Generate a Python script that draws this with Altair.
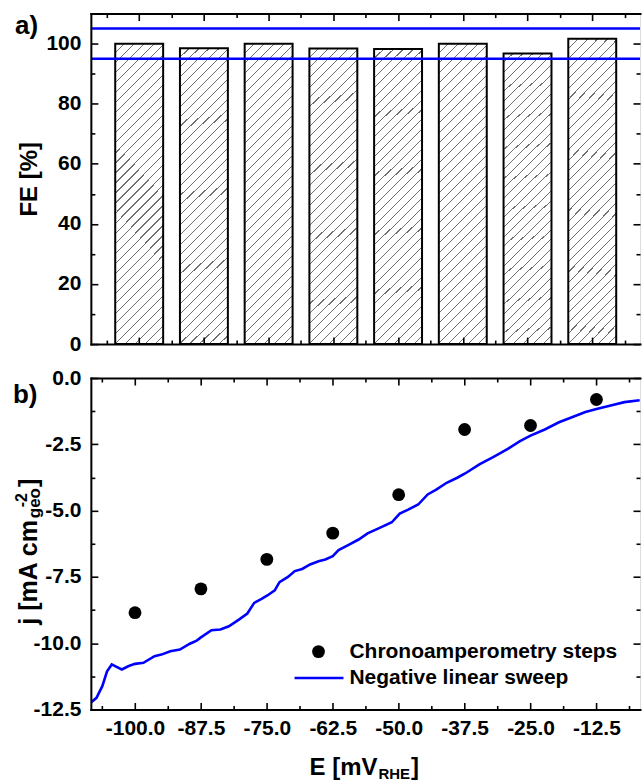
import altair as alt
import pandas as pd

# ---------------- data ----------------
E_steps = [-100.0, -87.5, -75.0, -62.5, -50.0, -37.5, -25.0, -12.5]
FE = [100.0, 98.5, 100.0, 98.4, 98.2, 100.0, 96.7, 101.6]
FE_limits = [95, 105]
j_steps = [-8.85, -7.95, -6.84, -5.85, -4.40, -1.94, -1.79, -0.81]

sweep_E = [-108.3, -107.3, -106.2, -105.3, -104.4, -103.5, -102.5, -101.3, -100.0,
           -98.4, -96.3, -95.0, -93.3, -91.5, -89.6, -88.3, -87.5, -85.5, -83.8,
           -82.2, -80.3, -78.7, -77.4, -76.0, -74.9, -73.5, -72.6, -71.0, -69.7,
           -68.3, -66.8, -65.2, -63.9, -62.5, -61.4, -59.4, -57.6, -55.9, -53.6,
           -51.3, -49.8, -48.2, -46.3, -44.5, -42.8, -40.9, -38.9, -37.4, -34.7,
           -32.0, -29.3, -27.0, -25.0, -22.3, -19.6, -16.9, -14.6, -12.3, -9.6,
           -7.2, -4.3]
sweep_j = [-12.23, -12.06, -11.62, -11.06, -10.80, -10.89, -10.99, -10.87, -10.78,
           -10.74, -10.49, -10.43, -10.30, -10.24, -10.02, -9.90, -9.78, -9.51, -9.48,
           -9.36, -9.11, -8.88, -8.48, -8.33, -8.20, -8.01, -7.70, -7.50, -7.28,
           -7.20, -7.03, -6.91, -6.84, -6.72, -6.49, -6.28, -6.09, -5.86, -5.65,
           -5.44, -5.11, -4.96, -4.77, -4.39, -4.20, -3.95, -3.76, -3.60, -3.26,
           -2.97, -2.67, -2.38, -2.17, -1.94, -1.67, -1.46, -1.28, -1.16, -1.03,
           -0.91, -0.84]

x_major = [-100.0, -87.5, -75.0, -62.5, -50.0, -37.5, -25.0, -12.5]
x_minor = [-106.25, -93.75, -81.25, -68.75, -56.25, -43.75, -31.25, -18.75, -6.25]
fe_major = [0, 20, 40, 60, 80, 100]
fe_minor = [10, 30, 50, 70, 90]
j_major = [0.0, -2.5, -5.0, -7.5, -10.0, -12.5]
j_minor = [-1.25, -3.75, -6.25, -8.75, -11.25]

legend_labels = ["Chronoamperometry steps", "Negative linear sweep"]
panel_labels = ["a)", "b)"]
fe_title = "FE [%]"
x_title_parts = ["E [mV", "RHE", "]"]
j_title_parts = ["j [mA cm", "-2", "geo", "]"]

# ---------------- style ----------------
FONT = "Liberation Sans"
BLUE = "#0000FF"
XDOM = [-108.37, -4.24]
W = 550
H_TOP = 331
H_BOT = 332
MAJ = 7
MIN = 4
LBL = 21
FMT1 = "(datum.value % 1 == 0 ? datum.value + '.0' : '' + datum.value)"


def make_axis(orient, values, size, labels=False, label_expr=None, label_padding=8,
              title=None):
    # inward ticks: shift the axis inside by its tick length
    kw = dict(orient=orient, values=values, tickSize=size, offset=-size, tickWidth=1.6,
              tickColor="black", domain=False, grid=False, labels=labels, zindex=1,
              title=title)
    if labels:
        kw.update(labelExpr=label_expr, labelFont=FONT, labelFontSize=LBL,
                  labelFontWeight="bold", labelColor="black", labelPadding=label_padding,
                  labelOverlap=False, labelFlush=False)
    if title:
        kw.update(titleFont=FONT, titleFontSize=24, titleFontWeight="bold",
                  titleColor="black", titlePadding=4)
    return alt.Axis(**kw)


def frame_axis(orient):
    # spine only (no ticks, no labels)
    return alt.Axis(orient=orient, domain=True, domainColor="black", domainWidth=2,
                    domainCap="square", ticks=False, labels=False, grid=False,
                    title=None, zindex=1)


def txt(s, x, y, size, angle=0, align="left", baseline="alphabetic"):
    return alt.Chart(alt.Data(values=[{"s": s}])).mark_text(
        font=FONT, fontSize=size, fontWeight="bold", align=align,
        baseline=baseline, angle=angle, color="black"
    ).encode(x=alt.value(x), y=alt.value(y), text="s:N")


# hatch fill as a striped linear gradient (in bar bounding-box units)
period = 0.0052
frac = 0.11
stops = []
t = 0.0
while t < 0.2:
    a = round(t, 5)
    b = round(t + period * (1 - frac), 5)
    c = round(t + period, 5)
    stops += [alt.GradientStop(offset=a, color="white"),
              alt.GradientStop(offset=b, color="white"),
              alt.GradientStop(offset=b, color="#707070"),
              alt.GradientStop(offset=c, color="#707070")]
    t += period
stops.append(alt.GradientStop(offset=round(t, 5), color="white"))
stops.append(alt.GradientStop(offset=1, color="white"))
hatch = alt.Gradient(gradient="linear", stops=stops, x1=0, y1=0, x2=1, y2=6.25)

xs = alt.Scale(domain=XDOM, nice=False, zero=False)
fes = alt.Scale(domain=[0, 110], nice=False)
js = alt.Scale(domain=[-12.5, 0], nice=False)

bars_df = pd.DataFrame({"E": E_steps, "FE": FE})
lim_df = pd.DataFrame({"FE": FE_limits})
steps_df = pd.DataFrame({"E": E_steps, "j": j_steps})
sweep_df = pd.DataFrame({"E": sweep_E, "j": sweep_j})


def ghost(df, ycol, yscale, xaxis, yaxis):
    return alt.Chart(df).mark_point(opacity=0).encode(
        x=alt.X("E:Q", scale=xs, axis=xaxis),
        y=alt.Y(f"{ycol}:Q", scale=yscale, axis=yaxis),
    )


# invisible anchor fixing the page's top-left corner relative to the plot
anchor = alt.Chart(alt.Data(values=[{"s": ""}])).mark_rule(
    strokeWidth=1, opacity=0
).encode(x=alt.value(-90.5), x2=alt.value(-85), y=alt.value(-12.5))

# ---------------- top panel ----------------
bars = alt.Chart(bars_df).mark_bar(size=48, fill=hatch, stroke="black", strokeWidth=2).encode(
    x=alt.X("E:Q", scale=xs, axis=make_axis("bottom", x_major, MAJ)),
    y=alt.Y("FE:Q", scale=fes,
            axis=make_axis("left", fe_major, MAJ, labels=True,
                           label_expr="'' + datum.value", label_padding=10,
                           title=fe_title)),
)
limits = alt.Chart(lim_df).mark_rule(color=BLUE, strokeWidth=2.5).encode(
    y=alt.Y("FE:Q", scale=fes, axis=make_axis("left", fe_minor, MIN))
)
top = alt.layer(
    bars, limits,
    ghost(bars_df, "FE", fes, make_axis("bottom", x_minor, MIN), make_axis("right", fe_major, MAJ)),
    ghost(bars_df, "FE", fes, make_axis("top", x_major, MAJ), make_axis("right", fe_minor, MIN)),
    ghost(bars_df, "FE", fes, make_axis("top", x_minor, MIN), frame_axis("left")),
    ghost(bars_df, "FE", fes, frame_axis("bottom"), None),
    ghost(bars_df, "FE", fes, frame_axis("top"), None),
    txt(panel_labels[0], -76, 20.5, 26),
    anchor,
).resolve_axis(x="independent", y="independent").properties(width=W, height=H_TOP)

# ---------------- bottom panel ----------------
line = alt.Chart(sweep_df).mark_line(color=BLUE, strokeWidth=2.6, clip=True).encode(
    x=alt.X("E:Q", scale=xs,
            axis=make_axis("bottom", x_major, MAJ, labels=True, label_expr=FMT1,
                           label_padding=8)),
    y=alt.Y("j:Q", scale=js,
            axis=make_axis("left", j_major, MAJ, labels=True, label_expr=FMT1,
                           label_padding=10)),
    order="E:Q",
)
points = alt.Chart(steps_df).mark_circle(size=165, color="black", opacity=1).encode(
    x=alt.X("E:Q", scale=xs, axis=make_axis("top", x_major, MAJ)),
    y=alt.Y("j:Q", scale=js, axis=make_axis("right", j_major, MAJ)),
)
leg_pt = alt.Chart(alt.Data(values=[{"s": legend_labels[0]}])).mark_circle(
    size=165, color="black", opacity=1
).encode(x=alt.value(228), y=alt.value(274))
leg_ln = alt.Chart(alt.Data(values=[{"s": legend_labels[1]}])).mark_rule(
    color=BLUE, strokeWidth=2.6
).encode(x=alt.value(204), x2=alt.value(253), y=alt.value(300.5))

# composed axis titles (with sub/superscripts)
JF = 25
jm = 247
jy1 = jm - 4.223 * JF - 1
xm = 219.0
bottom = alt.layer(
    line, points,
    ghost(steps_df, "j", js, make_axis("bottom", x_minor, MIN), make_axis("left", j_minor, MIN)),
    ghost(steps_df, "j", js, make_axis("top", x_minor, MIN), make_axis("right", j_minor, MIN)),
    ghost(steps_df, "j", js, frame_axis("bottom"), frame_axis("left")),
    ghost(steps_df, "j", js, frame_axis("top"), None),
    leg_pt, leg_ln,
    txt(legend_labels[0], 259, 274.5, 21, baseline="middle"),
    txt(legend_labels[1], 259, 300.5, 21, baseline="middle"),
    txt(panel_labels[1], -78, 25.5, 26),
    txt(x_title_parts[0], xm, 398, 24),
    txt(x_title_parts[1], xm + 2.834 * 24 + 1, 401.5, 15),
    txt(x_title_parts[2], xm + 2.834 * 24 + 1 + 2.111 * 15 + 1, 398, 24),
    txt(j_title_parts[0], -54, jm, JF, angle=270),
    txt(j_title_parts[1], -64, jy1 - 11, 16, angle=270),
    txt(j_title_parts[2], -51, jy1, 17, angle=270),
    txt(j_title_parts[3], -54, jy1 - 30.2 - 1, JF, angle=270),
).resolve_axis(x="independent", y="independent").properties(width=W, height=H_BOT)

chart = alt.vconcat(top, bottom, spacing=34, bounds="flush").properties(
    padding={"left": 0, "top": 0, "right": 0, "bottom": 0}
).configure_view(strokeWidth=0).configure(font=FONT)

chart.save("out.html", embed_options={"renderer": "svg", "actions": False})
